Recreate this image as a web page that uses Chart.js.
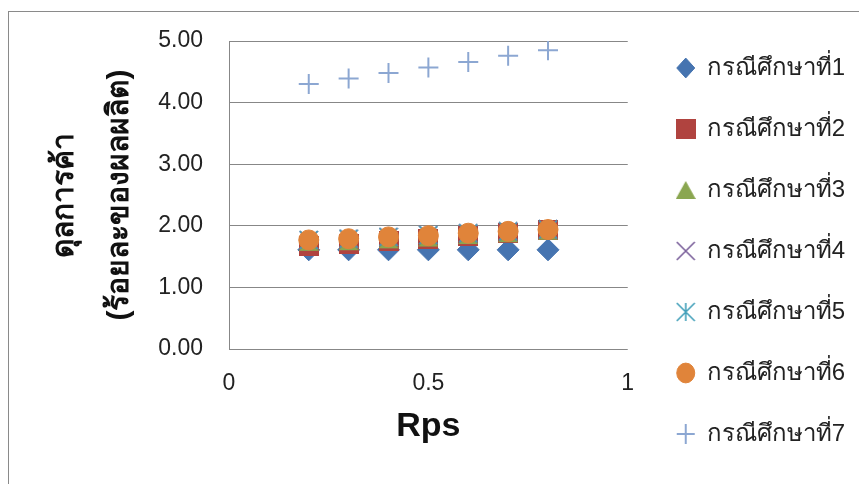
<!DOCTYPE html>
<html>
<head>
<meta charset="utf-8">
<script src="https://cdn.jsdelivr.net/npm/chart.js@4"></script>
<style>
  body { margin: 0; background: #fff; overflow: hidden; }
  #frame { position: absolute; left: 8px; top: 11px; width: 900px; height: 500px; border: 1px solid #8a8a8a; }
  #myChart { position: absolute; left: 0; top: 0; }
</style>
</head>
<body>
<div id="frame"></div>
<canvas id="myChart" width="859" height="484"></canvas>
<script>
// x values (Rps)
const rps = [0.2, 0.3, 0.4, 0.5, 0.6, 0.7, 0.8];

// trade balance, one array per case study
const case1 = [1.61, 1.61, 1.61, 1.61, 1.61, 1.61, 1.61];
const case2 = [1.67, 1.71, 1.75, 1.79, 1.83, 1.88, 1.93];
const case3 = [1.74, 1.75, 1.78, 1.81, 1.85, 1.88, 1.92];
const case4 = [1.77, 1.79, 1.82, 1.85, 1.88, 1.91, 1.94];
const case5 = [1.77, 1.79, 1.82, 1.85, 1.88, 1.91, 1.94];
const case6 = [1.77, 1.79, 1.82, 1.84, 1.88, 1.91, 1.94];
const case7 = [4.30, 4.39, 4.48, 4.57, 4.66, 4.76, 4.85];

const caseNames = ['กรณีศึกษาที่1', 'กรณีศึกษาที่2', 'กรณีศึกษาที่3', 'กรณีศึกษาที่4',
  'กรณีศึกษาที่5', 'กรณีศึกษาที่6', 'กรณีศึกษาที่7'];
const yTitle = ['ดุลการค้า', '(ร้อยละของผลผลิต)'];
const xTitle = 'Rps';

const FONT = "'Liberation Sans', 'Noto Sans', sans-serif";

// pair x with y
function toPoints(ys) {
  const pts = [];
  for (let i = 0; i < rps.length; i++) {
    pts.push({ x: rps[i], y: ys[i] });
  }
  return pts;
}

// small canvas used as a marker glyph (excel style square / triangle / x / asterisk)
function makeMarker(draw) {
  const c = document.createElement('canvas');
  c.width = 20;
  c.height = 20;
  draw(c.getContext('2d'));
  return c;
}

const squareMark = makeMarker(g => {
  g.fillStyle = '#b0433f';
  g.fillRect(0, 0, 20, 20);
});
const triangleMark = makeMarker(g => {
  g.fillStyle = '#8aa650';
  g.beginPath();
  g.moveTo(10, 1);
  g.lineTo(20, 19);
  g.lineTo(0, 19);
  g.closePath();
  g.fill();
});
const xMark = makeMarker(g => {
  g.strokeStyle = '#7a5f9a';
  g.lineWidth = 1.6;
  g.beginPath();
  g.moveTo(1, 1); g.lineTo(19, 19);
  g.moveTo(19, 1); g.lineTo(1, 19);
  g.stroke();
});
const asteriskMark = makeMarker(g => {
  g.strokeStyle = '#43a0ba';
  g.lineWidth = 1.6;
  g.beginPath();
  g.moveTo(1, 1); g.lineTo(19, 19);
  g.moveTo(19, 1); g.lineTo(1, 19);
  g.moveTo(10, 1); g.lineTo(10, 19);
  g.stroke();
});

const styles = [
  { style: 'rectRot', color: '#4674b0', r: 11 },
  { style: squareMark, color: '#b0433f', r: 10 },
  { style: triangleMark, color: '#8aa650', r: 10 },
  { style: xMark, color: '#7a5f9a', r: 10 },
  { style: asteriskMark, color: '#43a0ba', r: 10 },
  { style: 'circle', color: '#e0843a', r: 10 },
  { style: 'cross', color: '#8ca7d2', r: 10 }
];
const allCases = [case1, case2, case3, case4, case5, case6, case7];

const datasets = [];
for (let i = 0; i < allCases.length; i++) {
  const s = styles[i];
  datasets.push({
    label: caseNames[i],
    data: toPoints(allCases[i]),
    order: allCases.length - 1 - i, // later cases drawn on top, like excel
    pointStyle: s.style,
    pointRadius: s.r,
    pointHoverRadius: s.r,
    backgroundColor: s.color,
    borderColor: s.color,
    borderWidth: s.style === 'cross' ? 2 : 1
  });
}

// leave a small gap between plot and legend
const legendGap = {
  id: 'legendGap',
  afterLayout(chart) {
    chart.legend.left += 12;
    chart.legend.right += 12;
  }
};

const ctx = document.getElementById('myChart');
const chart = new Chart(ctx.getContext('2d'), {
  type: 'scatter',
  data: { datasets: datasets },
  plugins: [legendGap],
  options: {
    responsive: false,
    animation: false,
    layout: { padding: { left: 0, top: 19, right: 22, bottom: 0 } },
    plugins: {
      tooltip: { enabled: false },
      legend: {
        position: 'right',
        align: 'start',
        labels: {
          usePointStyle: true,
          boxHeight: 14,
          pointStyleWidth: 18,
          padding: 37,
          color: '#222',
          font: { family: FONT, size: 24 },
          sort: (a, b) => a.datasetIndex - b.datasetIndex
        }
      }
    },
    scales: {
      x: {
        type: 'linear',
        min: 0,
        max: 1,
        ticks: {
          stepSize: 0.5,
          padding: 21,
          color: '#222',
          font: { family: FONT, size: 23 },
          callback: v => String(v)
        },
        grid: { display: false, drawTicks: false },
        border: { display: false },
        title: {
          display: true,
          text: xTitle,
          color: '#111',
          font: { family: FONT, size: 34, weight: 'bold' },
          padding: { top: 0, bottom: 37 }
        },
        afterFit: s => { s.height = 135; }
      },
      // empty axis only used as a spacer above the plot
      xTop: {
        type: 'linear',
        position: 'top',
        min: 0,
        max: 1,
        ticks: { display: false },
        grid: { display: false, drawTicks: false },
        border: { display: false },
        afterFit: s => { s.height = 22; }
      },
      y: {
        min: 0,
        max: 5,
        ticks: {
          stepSize: 1,
          padding: 26,
          color: '#222',
          font: { family: FONT, size: 23 },
          callback: v => v.toFixed(2)
        },
        grid: { color: '#878787', lineWidth: 1, drawTicks: false },
        border: { display: true, color: '#878787' },
        title: {
          display: true,
          text: yTitle,
          color: '#111',
          font: { family: FONT, size: 30, weight: 'bold', lineHeight: 1.83 },
          padding: { top: 37, bottom: 0 }
        },
        afterFit: s => { s.width = 229; }
      }
    }
  }
});
</script>
</body>
</html>
